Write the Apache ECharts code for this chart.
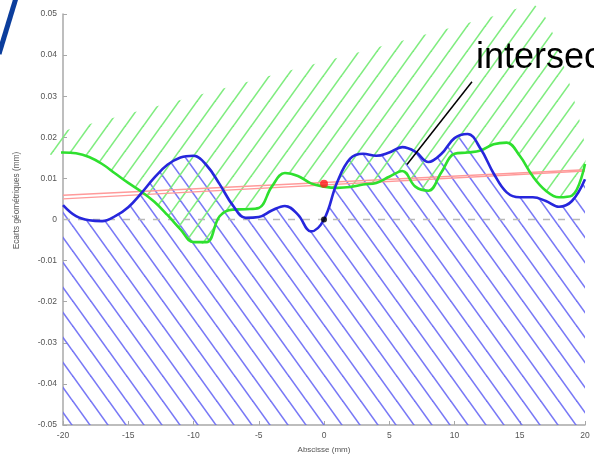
<!DOCTYPE html>
<html><head><meta charset="utf-8">
<script src="https://cdn.jsdelivr.net/npm/echarts@6/dist/echarts.min.js"></script>
<style>html,body{margin:0;padding:0;background:#fff}#c{width:594px;height:459px}</style>
</head><body><div id="c"></div>
<script>
// sample positions (mm)
const xs = [-21,-20,-19,-18,-17,-16,-15,-14,-13,-12,-11,-10,-9,-8,-7,-6,-5,-4,-3,-2,-1,0,1,2,3,4,5,6,7,8,9,10,11,12,13,14,15,16,17,18,19,20];
const blueX = [-20,-19,-18,-17,-16,-15,-14,-13,-12,-11,-10,-9,-8,-7,-6,-5,-4,-3,-2,-1,0,1,2,3,4,5,6,7,8,9,10,11,12,13,14,15,16,17,18,19,20];
// blue profile
const blue = [0.0035,0.0008,-0.0002,-0.0004,0.0008,0.0030,0.0064,0.0102,0.0133,0.0151,0.0155,0.0132,0.0086,0.0035,0.0004,0.0006,0.0022,0.0033,0.0012,-0.0029,0.0000,0.0090,0.0148,0.0160,0.0155,0.0163,0.0176,0.0165,0.0140,0.0160,0.0198,0.0208,0.0172,0.0112,0.0066,0.0054,0.0054,0.0045,0.0031,0.0045,0.0098];
// green profile
const green = [0.0159,0.0163,0.0161,0.0152,0.0135,0.0112,0.0089,0.0068,0.0043,0.0011,-0.0024,-0.0055,-0.0055,0.0008,0.0024,0.0025,0.0028,0.0080,0.0113,0.0106,0.0088,0.0080,0.0077,0.0079,0.0085,0.0089,0.0104,0.0118,0.0080,0.0070,0.0115,0.0160,0.0163,0.0168,0.0183,0.0187,0.0155,0.0105,0.0070,0.0054,0.0058,0.0135];
// upper limit of green hatched zone
const upper = [0.0205,0.0215,0.0223,0.0232,0.0240,0.0249,0.0257,0.0266,0.0274,0.0283,0.0291,0.0300,0.0308,0.0317,0.0325,0.0334,0.0342,0.0351,0.0359,0.0368,0.0376,0.0385,0.0393,0.0401,0.0410,0.0418,0.0427,0.0435,0.0444,0.0452,0.0461,0.0469,0.0478,0.0486,0.0495,0.0505,0.0515,0.0524,0.0490,0.0410,0.0310,0.0180];
// red reference line (two edges of the thin band)
const redX = [-20, 20];
const redA = [0.0050, 0.0118];
const redB = [0.0059, 0.0121];
// points
const redPt = [0, 0.0087];
const blackPt = [0, 0];
const zeroX = [-20, 20];
const zeroY = [0, 0];
const arrowFrom = [11.34, 0.0335];
const arrowTo = [6.36, 0.0134];
const xTicks = [-20,-15,-10,-5,0,5,10,15,20];
const yTicks = [-0.05,-0.04,-0.03,-0.02,-0.01,0,0.01,0.02,0.03,0.04,0.05];

function hatch(color, dir){
  const w = 18, h = 25;
  const c = document.createElement('canvas');
  c.width = w; c.height = h;
  const g = c.getContext('2d');
  g.strokeStyle = color; g.lineWidth = 1.6;
  for (let i=-1;i<=1;i++) for (let j=-1;j<=1;j++){
    const ox = i*w, oy = j*h;
    g.beginPath();
    if (dir === 'back'){ g.moveTo(ox, oy); g.lineTo(ox+w, oy+h); }
    else { g.moveTo(ox, oy+h); g.lineTo(ox+w, oy); }
    g.stroke();
  }
  return {image: c, repeat: 'repeat'};
}
const zip = (a,b)=>a.map((v,i)=>[v,b[i]]);
const font = 'Liberation Sans, Arial, sans-serif';
const greenHatch = hatch('rgba(120,235,120,0.95)', 'fwd');

const chart = echarts.init(document.getElementById('c'));
chart.setOption({
  animation: false,
  grid: {left: 63, right: 9, top: 14, bottom: 32},
  xAxis: {
    type: 'value', min: -20, max: 20, interval: 5,
    axisLine: {show: true, onZero: false, lineStyle: {color: '#a8a8a8', width: 1.5}},
    axisTick: {show: true, inside: true, length: 4, lineStyle: {color: '#a8a8a8'}},
    axisLabel: {color: '#555', fontSize: 8.5, margin: 6, fontFamily: font,
      formatter: v => xTicks.includes(v) ? String(v) : ''},
    splitLine: {show: false},
    name: 'Abscisse (mm)', nameLocation: 'middle', nameGap: 21,
    nameTextStyle: {color: '#555', fontSize: 8, fontFamily: font}
  },
  yAxis: {
    type: 'value', min: -0.05, max: 0.05, interval: 0.01,
    axisLine: {show: true, onZero: false, lineStyle: {color: '#a8a8a8', width: 1.5}},
    axisTick: {show: true, inside: true, length: 4, lineStyle: {color: '#a8a8a8'}},
    axisLabel: {color: '#555', fontSize: 8.5, margin: 6, fontFamily: font,
      formatter: v => { const t = yTicks.find(k => Math.abs(k - v) < 1e-9); return t === undefined ? '' : String(t); }},
    splitLine: {show: false},
    name: 'Ecarts géométriques (mm)', nameLocation: 'middle', nameGap: 42,
    nameTextStyle: {color: '#555', fontSize: 8.3, fontFamily: font, padding: [0, 0, 0, 38]}
  },
  series: [
    {type: 'line', data: zip(blueX, blue), smooth: 0.4, symbol: 'none', z: 1,
     lineStyle: {width: 0, opacity: 0},
     areaStyle: {color: hatch('rgba(105,105,245,0.9)', 'back'), opacity: 1, origin: 'start'}},
    {type: 'custom', data: [[0, 0]], z: 1, clip: false, silent: true,
     renderItem: function(params, api){
       const top = xs.map((x,i)=>api.coord([x, upper[i]]));
       const bot = xs.map((x,i)=>api.coord([x, green[i]])).reverse();
       return {type: 'polygon', shape: {points: top.concat(bot), smooth: 0.35},
               style: {fill: greenHatch, stroke: null}};
     }},
    {type: 'line', data: zip(zeroX, zeroY), symbol: 'none', z: 2,
     lineStyle: {color: '#b8b8b8', width: 1.5, type: [7, 8]},
     markLine: {silent: true, symbol: ['none', 'arrow'], symbolSize: [0, 10], z: 6,
       lineStyle: {color: '#000', width: 1.5, type: 'solid'}, label: {show: false},
       data: [[{coord: arrowFrom}, {coord: arrowTo}]]}},
    {type: 'line', data: zip(redX, redA), symbol: 'none', z: 2, lineStyle: {color: '#ff9a9a', width: 1.3}},
    {type: 'line', data: zip(redX, redB), symbol: 'none', z: 2, lineStyle: {color: '#ff9a9a', width: 1.3}},
    {type: 'line', data: zip(xs, green), smooth: 0.4, symbol: 'none', clip: false, z: 3,
     lineStyle: {color: '#2ee02e', width: 2.6}},
    {type: 'line', data: zip(blueX, blue), smooth: 0.4, symbol: 'none', z: 3,
     lineStyle: {color: '#2626dc', width: 2.6}},
    {type: 'scatter', data: [redPt], symbolSize: 8, z: 4, itemStyle: {color: '#ff1a1a'}},
    {type: 'scatter', data: [blackPt], symbolSize: 6, z: 4, itemStyle: {color: '#000'}}
  ],
  graphic: [
    {type: 'line', z: 10, shape: {x1: 16, y1: -2, x2: -1, y2: 54}, style: {stroke: '#0b3d9c', lineWidth: 5}},
    {type: 'text', z: 10, x: 476, y: 58, style: {text: 'intersec', font: '36px ' + font, fill: '#000', verticalAlign: 'middle', align: 'left'}}
  ]
});
</script></body></html>
